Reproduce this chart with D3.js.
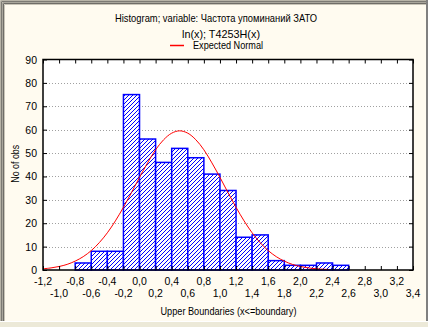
<!DOCTYPE html>
<html>
<head>
<meta charset="utf-8">
<script src="https://cdn.jsdelivr.net/npm/d3@7"></script>
<style>
  html, body { margin: 0; padding: 0; background: #ece9d8; }
  svg { display: block; }
  text { font-family: "Liberation Sans", Arial, sans-serif; fill: #000; }
</style>
</head>
<body>
<svg id="chart" width="428" height="327"></svg>
<script>
// Histogram bins: upper boundaries (bin width 0.2) and observed counts
const binUpper = [-0.6, -0.4, -0.2, 0.0, 0.2, 0.4, 0.6, 0.8, 1.0, 1.2, 1.4, 1.6, 1.8, 2.0, 2.2, 2.4, 2.6];
const binCounts = [3, 8, 8, 75, 56, 46, 52, 48, 41, 34, 14, 15, 4, 2, 2, 3, 2];
const binWidth = 0.2;

// Expected normal curve, sampled along x
const curveX = [-1.2, -1.1, -1.0, -0.9, -0.8, -0.7, -0.6, -0.5, -0.4, -0.3, -0.2, -0.1, 0.0, 0.1, 0.2, 0.3, 0.4, 0.5,
                0.6, 0.7, 0.8, 0.9, 1.0, 1.1, 1.2, 1.3, 1.4, 1.5, 1.6, 1.7, 1.8, 1.9, 2.0, 2.1, 2.2, 2.3, 2.35];
const curveY = [0.5, 0.9, 1.5, 2.4, 3.8, 5.7, 8.3, 11.7, 15.9, 21.0, 26.8, 33.1, 39.6, 45.8, 51.4, 55.7, 58.5, 59.5,
                58.5, 55.7, 51.4, 45.8, 39.6, 33.1, 26.8, 21.0, 15.9, 11.7, 8.3, 5.7, 3.8, 2.4, 1.5, 0.9, 0.5, 0.3, 0.25];

// Axis ticks
const xTicks = [-1.2, -1.0, -0.8, -0.6, -0.4, -0.2, 0.0, 0.2, 0.4, 0.6, 0.8, 1.0, 1.2, 1.4, 1.6, 1.8, 2.0, 2.2, 2.4, 2.6, 2.8, 3.0, 3.2, 3.4];
const yTicks = [0, 10, 20, 30, 40, 50, 60, 70, 80, 90];

const titleLines = ["Histogram; variable: Частота упоминаний ЗАТО", "ln(x); T4253H(x)"];
const legendLabel = "Expected Normal";
const xTitle = "Upper Boundaries (x<=boundary)";
const yTitle = "No of obs";

const W = 428, H = 327;
const plot = { left: 43, right: 413, top: 59.5, bottom: 270 };

const svg = d3.select("#chart");

// Window background and bevelled frame
svg.append("rect").attr("x", 0).attr("y", 0).attr("width", W).attr("height", H).attr("fill", "#ece9d8");
svg.append("rect").attr("x", 0).attr("y", 0).attr("width", 426).attr("height", 321).attr("fill", "#fffbf0");
const bevel = [
  { o: 0.5, c: "#b8b4a8" },
  { o: 1.5, c: "#7c7a74" },
  { o: 2.5, c: "#a9a69c" },
  { o: 3.5, c: "#6f6d68" },
  { o: 4.5, c: "#c9c5b8" }
];
bevel.forEach(b => {
  svg.append("path")
    .attr("d", `M${b.o},321 V${b.o} H426`)
    .attr("fill", "none").attr("stroke", b.c).attr("stroke-width", 1);
});
svg.append("rect").attr("x", 426).attr("y", 0).attr("width", 2).attr("height", 321).attr("fill", "#808080");
svg.append("line").attr("x1", 0).attr("x2", 428).attr("y1", 321.5).attr("y2", 321.5).attr("stroke", "#ffffff");

// Hatch pattern for bars
const defs = svg.append("defs");
const pat = defs.append("pattern")
  .attr("id", "hatch").attr("patternUnits", "userSpaceOnUse")
  .attr("width", 4).attr("height", 4);
pat.append("rect").attr("width", 4).attr("height", 4).attr("fill", "#ffffff");
pat.append("path").attr("d", "M-1,1 L1,-1 M0,4 L4,0 M3,5 L5,3")
  .attr("stroke", "#0000ff").attr("stroke-width", 1).attr("shape-rendering", "crispEdges");

const x = d3.scaleLinear().domain([-1.2, 3.4]).range([plot.left, plot.right]);
const y = d3.scaleLinear().domain([0, 90]).range([plot.bottom, plot.top]);

const fmt = v => v.toFixed(1).replace(".", ",").replace("-0,0", "0,0");

// Plot area
svg.append("rect")
  .attr("x", plot.left).attr("y", plot.top)
  .attr("width", plot.right - plot.left).attr("height", plot.bottom - plot.top)
  .attr("fill", "#ffffff");

// Dotted grid lines
svg.append("g").selectAll("line")
  .data(yTicks.filter(t => t > 0 && t < 90))
  .join("line")
  .attr("x1", plot.left).attr("x2", plot.right)
  .attr("y1", d => Math.round(y(d)) + 0.5).attr("y2", d => Math.round(y(d)) + 0.5)
  .attr("stroke", "#a0a0a0").attr("stroke-width", 1).attr("stroke-dasharray", "1,2");

// Bars
const bins = binUpper.map((u, i) => ({ lo: u - binWidth, hi: u, n: binCounts[i] }));
svg.append("g").selectAll("rect")
  .data(bins)
  .join("rect")
  .attr("x", d => x(d.lo))
  .attr("y", d => y(d.n))
  .attr("width", d => x(d.hi) - x(d.lo))
  .attr("height", d => y(0) - y(d.n))
  .attr("fill", "url(#hatch)")
  .attr("stroke", "#0000ff").attr("stroke-width", 1.5);

// Expected normal curve
const line = d3.line()
  .x((d, i) => x(curveX[i]))
  .y(d => y(d))
  .curve(d3.curveCatmullRom);
svg.append("path")
  .attr("d", line(curveY))
  .attr("fill", "none").attr("stroke", "#ff0000").attr("stroke-width", 1);

// Axes (ticks drawn inward, on all four sides)
const xAxisB = d3.axisBottom(x).tickValues(xTicks).tickSize(-4).tickFormat("");
const xAxisT = d3.axisTop(x).tickValues(xTicks).tickSize(-4).tickFormat("");
const yAxisL = d3.axisLeft(y).tickValues(yTicks).tickSize(-4).tickFormat("");
const yAxisR = d3.axisRight(y).tickValues(yTicks).tickSize(-4).tickFormat("");
[[xAxisB, `translate(0,${plot.bottom})`], [xAxisT, `translate(0,${plot.top})`],
 [yAxisL, `translate(${plot.left},0)`], [yAxisR, `translate(${plot.right},0)`]].forEach(([ax, tr]) => {
  const g = svg.append("g").attr("transform", tr).call(ax);
  g.select(".domain").remove();
  g.selectAll("line").attr("stroke", "#000");
});

// Plot frame
svg.append("rect")
  .attr("x", plot.left).attr("y", plot.top)
  .attr("width", plot.right - plot.left).attr("height", plot.bottom - plot.top)
  .attr("fill", "none").attr("stroke", "#000").attr("stroke-width", 1.5);

// X tick labels, staggered in two rows
svg.append("g").selectAll("text")
  .data(xTicks)
  .join("text")
  .attr("x", d => x(d))
  .attr("y", (d, i) => i % 2 === 0 ? 285 : 297)
  .attr("text-anchor", "middle")
  .attr("font-size", 10.5)
  .text(d => fmt(d));

// Y tick labels
svg.append("g").selectAll("text")
  .data(yTicks)
  .join("text")
  .attr("x", 37)
  .attr("y", d => y(d) + 4)
  .attr("text-anchor", "end")
  .attr("font-size", 10.5)
  .text(d => d);

// Text helper with a fixed rendered width
function label(tx, ty, str, width, anchor) {
  return svg.append("text").attr("x", tx).attr("y", ty)
    .attr("text-anchor", anchor || "middle")
    .attr("font-size", 10.5)
    .attr("textLength", width).attr("lengthAdjust", "spacingAndGlyphs")
    .text(str);
}

// Titles
label(216, 22, titleLines[0], 202);
label(221, 38, titleLines[1], 78);

// Legend
svg.append("line").attr("x1", 170).attr("x2", 184).attr("y1", 45.5).attr("y2", 45.5)
  .attr("stroke", "#ff0000").attr("stroke-width", 1.5);
label(193, 49, legendLabel, 70, "start");

// Axis titles
label(228.5, 315, xTitle, 136);
svg.append("text")
  .attr("transform", `translate(19,${(plot.top + plot.bottom) / 2 - 1}) rotate(-90)`)
  .attr("text-anchor", "middle")
  .attr("font-size", 10.5)
  .attr("textLength", 38).attr("lengthAdjust", "spacingAndGlyphs")
  .text(yTitle);
</script>
</body>
</html>
